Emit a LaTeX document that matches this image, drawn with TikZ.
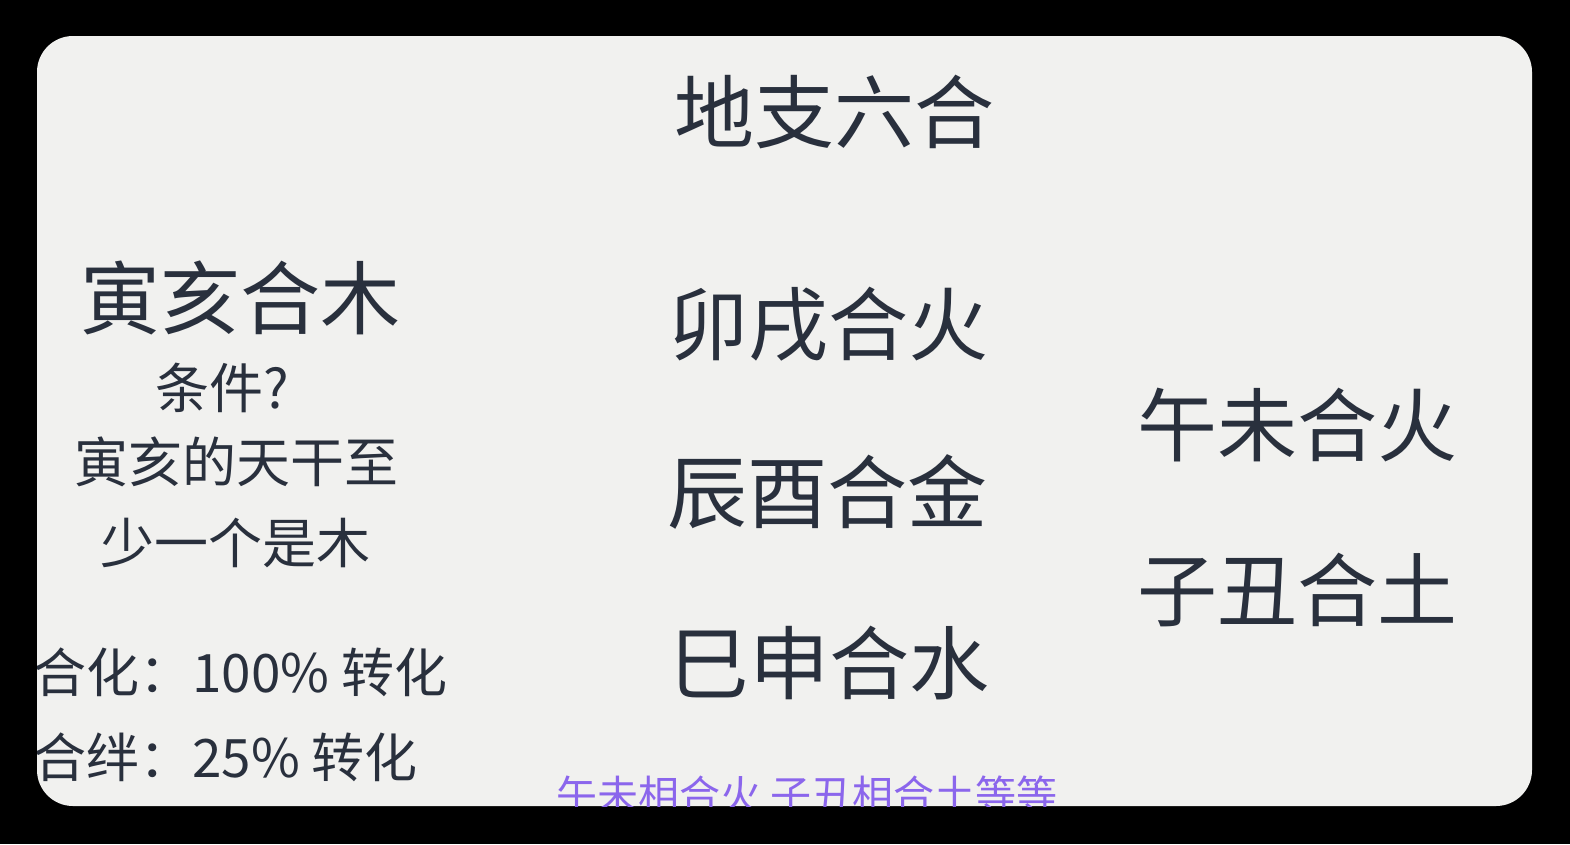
\documentclass[tikz,border=0pt]{standalone}
\usepackage{fontspec}
\newfontfamily\cjk{Noto Sans CJK SC}
\usetikzlibrary{positioning}

\definecolor{ink}{HTML}{29303D}
\definecolor{card}{HTML}{F1F1EF}
\definecolor{lilac}{HTML}{8B66EC}

\tikzset{
  big/.style={inner sep=0pt, text=ink, font=\cjk\fontsize{80}{82}\selectfont},
  mid/.style={inner sep=0pt, text=ink, font=\cjk\fontsize{54}{56}\selectfont},
  note/.style={inner sep=0pt, text=ink, anchor=west, font=\cjk\fontsize{53}{56}\selectfont},
  sub/.style={inner sep=0pt, text=lilac, font=\cjk\fontsize{41}{44}\selectfont}
}

\begin{document}
\begin{tikzpicture}[x=1pt, y=-1pt]

\useasboundingbox (0,0) rectangle (1570,844);
\fill[black] (0,0) rectangle (1570,844);

\pgfmathsetmacro{\rc}{36}
\fill[card, rounded corners=\rc] (37,36) rectangle (1532,806);

\begin{scope}
\clip[rounded corners=\rc] (37,36) rectangle (1532,806);

\node[big] (title) at (834,112) {地支六合};

% left column
\node[big] (yinhai) at (240,298) {寅亥合木};
\node[mid] (cond) at (222,388) {条件?};
\node[mid] (cond2) at (236,462) {寅亥的天干至};
\node[mid] (cond3) at (235,543) {少一个是木};
\node[note] (hehua) at (33,672) {合化：100\% 转化};
\node[note] (heban) at (33,757) {合绊：25\% 转化};

% middle column
\node[big] (maoxu) at (828,325) {卯戌合火};
\node[big] (chenyou) at (827,492) {辰酉合金};
\node[big] (sishen) at (829,663) {巳申合水};

% right column
\node[big] (wuwei) at (1297,425) {午未合火};
\node[big] (zichou) at (1297,590) {子丑合土};

% subtitle, cut by the card edge
\node[sub] (subline) at (807,795) {午未相合火 子丑相合土等等};

\end{scope}

\end{tikzpicture}
\end{document}
